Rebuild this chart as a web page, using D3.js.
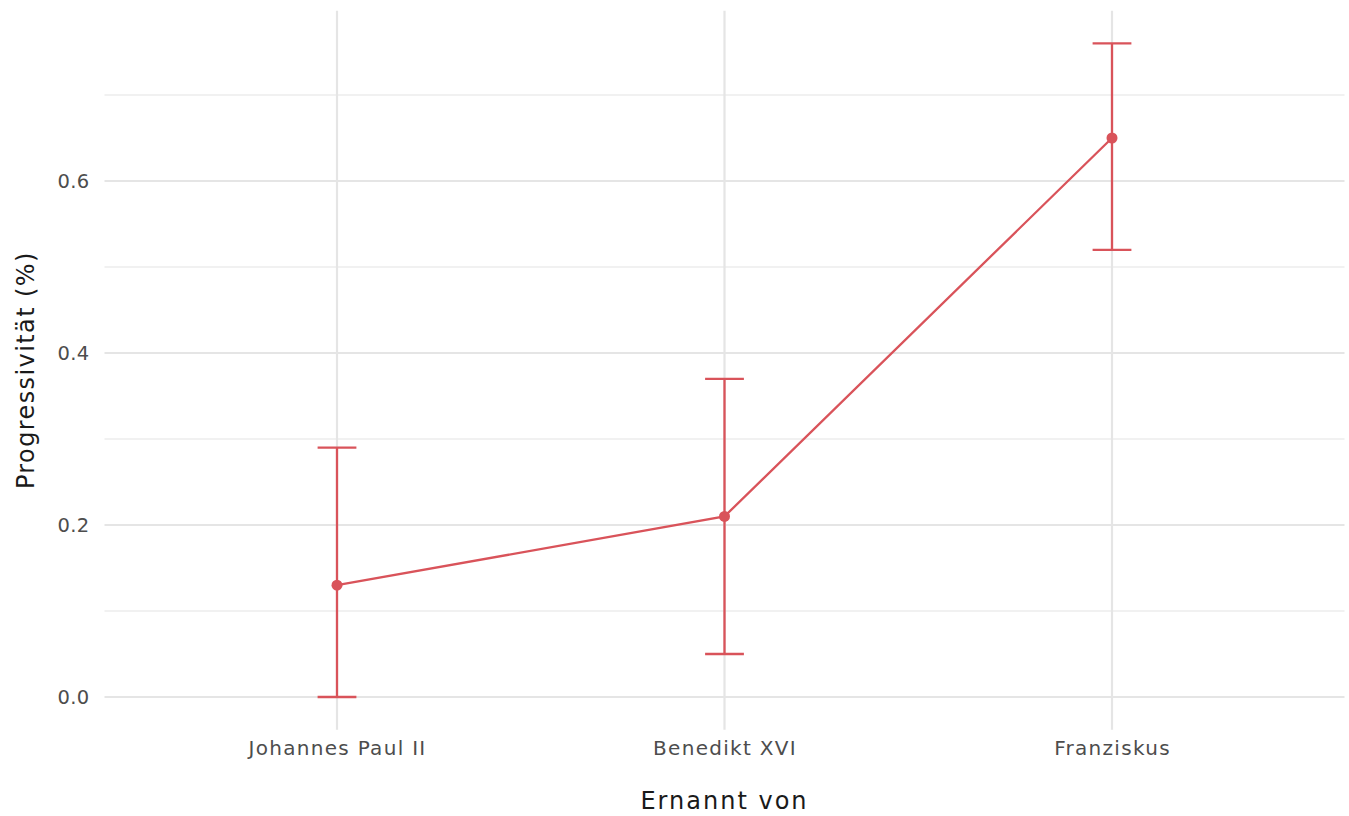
<!DOCTYPE html>
<html><head><meta charset="utf-8">
<script src="https://cdn.jsdelivr.net/npm/d3@7"></script>
<style>body{margin:0;background:#fff}svg{display:block}text{font-family:"DejaVu Sans","Open Sans",sans-serif}</style>
</head><body><svg id="c" width="1349" height="816"></svg>
<script>
const categories = ["Johannes Paul II", "Benedikt XVI", "Franziskus"];
const estimates = [0.13, 0.21, 0.65];
const lower = [0.0, 0.05, 0.52];
const upper = [0.29, 0.37, 0.76];
const majorTicks = [0.0, 0.2, 0.4, 0.6];
const minorTicks = [0.1, 0.3, 0.5, 0.7];
const xTitle = "Ernannt von";
const yTitle = "Progressivität (%)";

(function () {
const svg = d3.select("#c");
const pLeft = 104.5, pRight = 1344.5, pTop = 10.7, pBottom = 729.7;
const col = "#d9535a";
const font = '"DejaVu Sans","Open Sans",sans-serif';

const xPos = d3.scalePoint().domain(categories).range([pLeft, pRight]).padding(0.6);
const y = d3.scaleLinear().domain([-0.038, 0.798]).range([pBottom, pTop]);

const g = svg.append("g");
g.selectAll(".mn").data(minorTicks).join("line")
  .attr("x1", pLeft).attr("x2", pRight).attr("y1", d => y(d)).attr("y2", d => y(d))
  .attr("stroke", "#ededed").attr("stroke-width", 1.4);
g.selectAll(".mj").data(majorTicks).join("line")
  .attr("x1", pLeft).attr("x2", pRight).attr("y1", d => y(d)).attr("y2", d => y(d))
  .attr("stroke", "#e5e5e5").attr("stroke-width", 2.2);
g.selectAll(".vx").data(categories).join("line")
  .attr("x1", d => xPos(d)).attr("x2", d => xPos(d)).attr("y1", pTop).attr("y2", pBottom)
  .attr("stroke", "#e5e5e5").attr("stroke-width", 2.2);

const yAxis = d3.axisLeft(y).tickValues(majorTicks).tickFormat(d3.format(".1f")).tickSize(0).tickPadding(0);
const ya = svg.append("g").attr("transform", `translate(${pLeft - 15},0)`).call(yAxis);
ya.select(".domain").remove();
ya.selectAll("text").attr("font-size", 19.5).attr("fill", "#4d4d4d").attr("font-family", font).attr("letter-spacing", 0.3);

const xAxis = d3.axisBottom(xPos).tickSize(0).tickPadding(0);
const xa = svg.append("g").attr("transform", `translate(0,${pBottom + 11})`).call(xAxis);
xa.select(".domain").remove();
xa.selectAll("text").attr("font-size", 20).attr("fill", "#4d4d4d").attr("dy", "0.71em")
  .attr("font-family", font).attr("letter-spacing", 1.3);

const half = 19.4;
const eb = svg.append("g").attr("stroke", col).attr("stroke-width", 2.3).attr("fill", "none");
categories.forEach((c, i) => {
  const x = xPos(c);
  eb.append("line").attr("x1", x).attr("x2", x).attr("y1", y(lower[i])).attr("y2", y(upper[i]));
  eb.append("line").attr("x1", x - half).attr("x2", x + half).attr("y1", y(lower[i])).attr("y2", y(lower[i]));
  eb.append("line").attr("x1", x - half).attr("x2", x + half).attr("y1", y(upper[i])).attr("y2", y(upper[i]));
});

const line = d3.line().x((d, i) => xPos(categories[i])).y(d => y(d));
svg.append("path").datum(estimates).attr("d", line).attr("fill", "none").attr("stroke", col).attr("stroke-width", 2.3);
svg.selectAll(".pt").data(estimates).join("circle")
  .attr("cx", (d, i) => xPos(categories[i])).attr("cy", d => y(d)).attr("r", 5.5).attr("fill", col);

svg.append("text").attr("x", (pLeft + pRight) / 2).attr("y", 809).attr("text-anchor", "middle")
  .attr("font-size", 24).attr("fill", "#1a1a1a").attr("letter-spacing", 2.0).text(xTitle);
svg.append("text").attr("transform", `translate(34,${(pTop + pBottom) / 2}) rotate(-90)`).attr("text-anchor", "middle")
  .attr("font-size", 24).attr("fill", "#1a1a1a").attr("letter-spacing", 1.4).text(yTitle);
})();
</script></body></html>
